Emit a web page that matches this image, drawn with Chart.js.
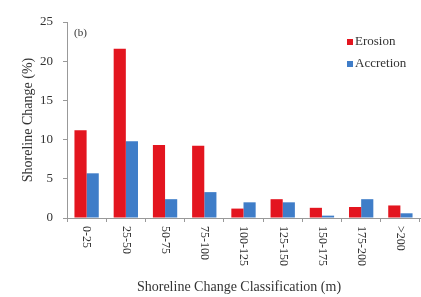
<!DOCTYPE html>
<html>
<head>
<meta charset="utf-8">
<script src="https://cdn.jsdelivr.net/npm/chart.js@4"></script>
<style>
  html, body { margin: 0; padding: 0; background: #fff; }
  #wrap { width: 421px; height: 297px; }
</style>
</head>
<body>
<div id="wrap"><canvas id="bar-chart" width="421" height="297"></canvas></div>
<script>
// Shoreline change classes and percentages
const classes = ["0-25", "25-50", "50-75", "75-100", "100-125", "125-150", "150-175", "175-200", ">200"];
const erosion = [11.2, 21.6, 9.3, 9.2, 1.2, 2.4, 1.3, 1.4, 1.6];
const accretion = [5.7, 9.8, 2.4, 3.3, 2.0, 2.0, 0.3, 2.4, 0.6];
const yTicks = [0, 5, 10, 15, 20, 25];

const serif = "'Liberation Serif', 'DejaVu Serif', serif";
const red = "#e3151f";
const blue = "#3f7dc8";

// Rotated (clockwise) category labels, legend inside the plot and the panel tag
const extras = {
  id: "extras",
  afterDraw(chart) {
    const c = chart.ctx;
    const xs = chart.scales.x;
    c.save();
    c.fillStyle = "#333";
    c.font = "12px " + serif;
    c.textAlign = "left";
    c.textBaseline = "middle";
    chart.data.labels.forEach((lab, i) => {
      c.save();
      c.translate(xs.getPixelForTick(i), xs.top + 8);
      c.rotate(Math.PI / 2);
      c.fillText(lab, 0, 0);
      c.restore();
    });

    // legend
    c.font = "13px " + serif;
    chart.data.datasets.forEach((ds, i) => {
      const y = 42 + i * 22;
      c.fillStyle = ds.backgroundColor;
      c.fillRect(347, y - 3, 6, 6);
      c.fillStyle = "#333";
      c.fillText(ds.label, 355, y);
    });

    c.font = "11px " + serif;
    c.fillText("(b)", 74, 33);

    // x axis title, sits a little left of the plot centre
    c.font = "14px " + serif;
    c.textAlign = "center";
    c.fillText("Shoreline Change Classification (m)", 239, 287);
    c.restore();
  },
};

const ctx = document.getElementById("bar-chart").getContext("2d");
const chart = new Chart(ctx, {
  type: "bar",
  data: {
    labels: classes,
    datasets: [
      { label: "Erosion", data: erosion, backgroundColor: red },
      { label: "Accretion", data: accretion, backgroundColor: blue },
    ],
  },
  options: {
    responsive: false,
    animation: false,
    layout: { padding: { top: 22, right: 1, left: 0, bottom: 0 } },
    plugins: { legend: { display: false }, tooltip: { enabled: false } },
    datasets: { bar: { categoryPercentage: 0.62, barPercentage: 1.0 } },
    scales: {
      x: {
        grid: { drawOnChartArea: false, offset: true, color: "#999", tickLength: 4 },
        border: { color: "#999" },
        ticks: { display: false },
        afterFit: (s) => { s.height = 79; },
      },
      y: {
        min: 0,
        max: 25,
        afterBuildTicks: (s) => { s.ticks = yTicks.map((v) => ({ value: v })); },
        grid: { drawOnChartArea: false, color: "#999", tickLength: 4 },
        border: { color: "#999" },
        ticks: { color: "#333", font: { family: serif, size: 13 }, padding: 10 },
        title: {
          display: true,
          text: "Shoreline Change (%)",
          color: "#333",
          font: { family: serif, size: 14 },
          padding: { top: 20, bottom: 0 },
        },
        afterFit: (s) => { s.width = 67; },
      },
    },
  },
  plugins: [extras],
});
</script>
</body>
</html>
